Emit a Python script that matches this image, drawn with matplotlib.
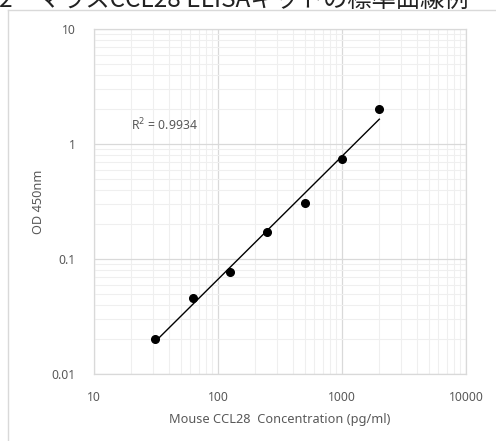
import numpy as np
import matplotlib
matplotlib.use('Agg')
import matplotlib.pyplot as plt
from matplotlib.lines import Line2D
import matplotlib.ticker as ticker

# standard curve data
conc = [31.25, 62.5, 125, 250, 500, 1000, 2000]
od = [0.020, 0.046, 0.077, 0.172, 0.307, 0.74, 2.01]
r2_text = 'R$^2$ = 0.9934'
title = '2　マウスCCL28 ELISAキットの標準曲線例'
xlabel = 'Mouse CCL28  Concentration (pg/ml)'
ylabel = 'OD 450nm'

plt.rcParams['font.family'] = ['Noto Sans', 'Noto Sans CJK JP', 'DejaVu Sans']
txt = '#595959'
grid_major = '#d9d9d9'
grid_minor = '#efefef'

fig = plt.figure(figsize=(4.96, 4.41), dpi=100)
ax = fig.add_axes([94/496, 1-374/441, 372/496, 345/441])

# power trendline fitted on log-log
lx, ly = np.log10(conc), np.log10(od)
b, a = np.polyfit(lx, ly, 1)
xs = np.array([conc[0], conc[-1]])
ax.plot(xs, 10**a * xs**b, color='black', lw=1.0, zorder=3)
ax.plot(conc, od, 'o', color='black', ms=5.5, zorder=4)

ax.set_xscale('log')
ax.set_yscale('log')
ax.set_xlim(10, 10000)
ax.set_ylim(0.01, 10)
ax.xaxis.set_major_locator(ticker.LogLocator(base=10))
ax.yaxis.set_major_locator(ticker.LogLocator(base=10))
ax.xaxis.set_minor_locator(ticker.LogLocator(base=10, subs=np.arange(2, 10)))
ax.yaxis.set_minor_locator(ticker.LogLocator(base=10, subs=np.arange(2, 10)))
ax.xaxis.set_major_formatter(ticker.FuncFormatter(lambda v, p: '%g' % v))
ax.yaxis.set_major_formatter(ticker.FuncFormatter(lambda v, p: '%g' % v))
ax.xaxis.set_minor_formatter(ticker.NullFormatter())
ax.yaxis.set_minor_formatter(ticker.NullFormatter())
ax.tick_params(which='both', length=0, labelsize=8.8, labelcolor=txt)
ax.tick_params(axis='x', pad=12)
ax.tick_params(axis='y', pad=13)
ax.grid(True, which='major', color=grid_major, lw=0.9)
ax.grid(True, which='minor', color=grid_minor, lw=0.8)
ax.set_axisbelow(True)
for s in ax.spines.values():
    s.set_color(grid_major)
    s.set_linewidth(0.9)

ax.set_xlabel(xlabel, fontsize=9.2, color=txt, labelpad=7)
ax.set_ylabel(ylabel, fontsize=9.2, color=txt, labelpad=5)
ax.text(0.19, 0.722, r2_text, transform=ax.transAxes, fontsize=8.8,
        color=txt, ha='center', va='center')

# chart area border (left and top visible)
fig.add_artist(Line2D([8/496, 8/496], [0, 1-10/441], transform=fig.transFigure,
                      color=grid_major, lw=1))
fig.add_artist(Line2D([8/496, 1], [1-10/441, 1-10/441], transform=fig.transFigure,
                      color=grid_major, lw=1))

# cut-off caption at the very top
fig.text(-0.003, 1-7/441, title, fontsize=17.5, color='#222222', ha='left',
         va='baseline', family=['Noto Sans CJK JP', 'DejaVu Sans'])

fig.savefig('out.png', dpi=100)
